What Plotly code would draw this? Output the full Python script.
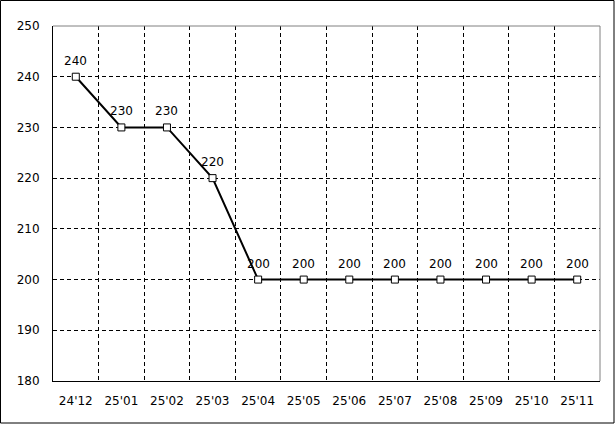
import plotly.graph_objects as go

categories = ["24'12", "25'01", "25'02", "25'03", "25'04", "25'05", "25'06",
              "25'07", "25'08", "25'09", "25'10", "25'11"]
values = [240, 230, 230, 220, 200, 200, 200, 200, 200, 200, 200, 200]
y_ticks = [180, 190, 200, 210, 220, 230, 240, 250]

W, H = 615, 424
ML, MR, MT, MB = 53, 15, 26, 43
PW, PH = W - ML - MR, H - MT - MB

fig = go.Figure()
fig.add_trace(go.Scatter(
    x=categories, y=values, mode="lines+markers",
    line=dict(color="black", width=2),
    marker=dict(symbol="square", size=7, color="white",
                line=dict(color="black", width=1)),
    cliponaxis=False, showlegend=False, hoverinfo="skip",
))

# data labels above each point
for c, v in zip(categories, values):
    fig.add_annotation(x=c, y=v, text=str(v), showarrow=False,
                       yshift=16, font=dict(family="DejaVu Sans", size=12,
                                            color="black"))

# outer border of the whole image
fig.add_shape(type="rect", xref="paper", yref="paper",
              x0=(0.5 - ML) / PW, x1=(W - 1 - ML) / PW,
              y0=-(MB - 1) / PH, y1=1 + (MT - 0.5) / PH,
              line=dict(color="black", width=1), layer="above")
# gray top and right plot edges
fig.add_shape(type="line", xref="paper", yref="paper", x0=0, x1=1, y0=1, y1=1,
              line=dict(color="#808080", width=1))
fig.add_shape(type="line", xref="paper", yref="paper", x0=1, x1=1, y0=0, y1=1,
              line=dict(color="#808080", width=1))

fig.update_layout(
    width=W, height=H,
    margin=dict(l=ML, r=MR, t=MT, b=MB, autoexpand=False),
    paper_bgcolor="white", plot_bgcolor="white",
    font=dict(family="DejaVu Sans", size=12, color="black"),
    xaxis=dict(type="category", tickson="boundaries", showgrid=True,
               gridcolor="black", griddash="4px,3px", gridwidth=1,
               showline=True, linecolor="black", linewidth=1,
               ticks="", ticklen=0, tickfont=dict(size=12),
               ticklabelstandoff=9, automargin=False,
               range=[-0.5, len(categories) - 0.5], fixedrange=True),
    yaxis=dict(range=[180, 250], tickvals=y_ticks, showgrid=True,
               gridcolor="black", griddash="4px,3px", gridwidth=1,
               showline=True, linecolor="black", linewidth=1,
               zeroline=False, ticks="", ticklen=0,
               ticklabelstandoff=10, automargin=False,
               tickfont=dict(size=12), fixedrange=True),
)

fig.write_html("out.html", config={"displayModeBar": False},
               post_script="document.body.style.margin='0';document.body.style.overflow='hidden';")
